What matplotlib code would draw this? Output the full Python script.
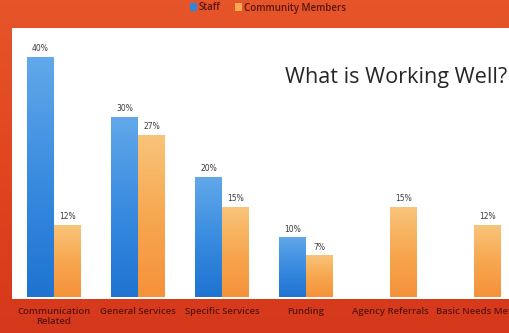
import numpy as np
import matplotlib.pyplot as plt
from matplotlib.colors import LinearSegmentedColormap
from matplotlib.patches import Patch

# Survey results: what is working well (percent of responses)
categories = ["Communication\nRelated", "General Services", "Specific Services",
              "Funding", "Agency Referrals", "Basic Needs Met"]
staff = [40, 30, 20, 10, 0, 0]
community = [12, 27, 15, 7, 15, 12]

fig = plt.figure(figsize=(5.10, 3.33), dpi=100)

# orange-red slide background
bg = fig.add_axes([0, 0, 1, 1], zorder=-10)
bg_cmap = LinearSegmentedColormap.from_list("bg", ["#e6552a", "#e04620", "#d5381b"])
bg.imshow(np.linspace(0, 1, 100).reshape(-1, 1), aspect="auto", cmap=bg_cmap,
          extent=[0, 1, 0, 1])
bg.set_axis_off()

ax = fig.add_axes([12 / 510, 1 - 299 / 333, 504 / 510, 271 / 333])
ax.set_facecolor("white")

x = np.arange(len(categories))
w = 0.32
blue = LinearSegmentedColormap.from_list("blue", ["#1f74d2", "#3a8ce0", "#62a8ea"])
orange = LinearSegmentedColormap.from_list("orange", ["#f5923a", "#f7a850", "#f9c47a"])


def gradient_bars(xs, vals, cmap):
    bars = ax.bar(xs, vals, width=w, color="none", edgecolor="none")
    for b, v in zip(bars, vals):
        if v <= 0:
            continue
        x0, y0 = b.get_x(), b.get_y()
        im = ax.imshow(np.linspace(0, 1, 64).reshape(-1, 1), cmap=cmap, aspect="auto",
                       origin="lower", extent=[x0, x0 + b.get_width(), y0, y0 + v],
                       zorder=2)
        im.set_clip_path(b)
        ax.text(b.get_x() + b.get_width() / 2, v + 0.6, f"{v}%", ha="center",
                va="bottom", fontsize=5.5, color="#3a3a3a", family="DejaVu Sans")


gradient_bars(x - w / 2, staff, blue)
gradient_bars(x + w / 2, community, orange)
ax.set_xlim(-0.5, 5.5)
ax.set_ylim(-0.3, 44.8)

ax.set_xticks(x)
ax.set_xticklabels(categories, fontsize=6.8, color="#5a1410", fontweight="semibold",
                   family="Open Sans", linespacing=1.1)
ax.tick_params(axis="x", length=0, pad=6)
ax.set_yticks([])
for s in ax.spines.values():
    s.set_visible(False)

fig.text(285 / 510, 1 - 77 / 333, "What is Working Well?", ha="left", va="center",
         fontsize=15.6, color="#262626", family="Open Sans")

handles = [Patch(facecolor="#2f86dc", label="Staff"),
           Patch(facecolor="#f7a850", label="Community Members")]
fig.legend(handles=handles, loc="center", bbox_to_anchor=(268 / 510, 1 - 8 / 333),
           ncol=2, frameon=False, handlelength=0.7, handleheight=0.9,
           handletextpad=0.2, columnspacing=1.5, prop={"size": 7, "weight": "semibold",
                                                       "family": "Open Sans"},
           labelcolor="#5a1410")

fig.savefig("out.png", dpi=100, facecolor=fig.get_facecolor())
